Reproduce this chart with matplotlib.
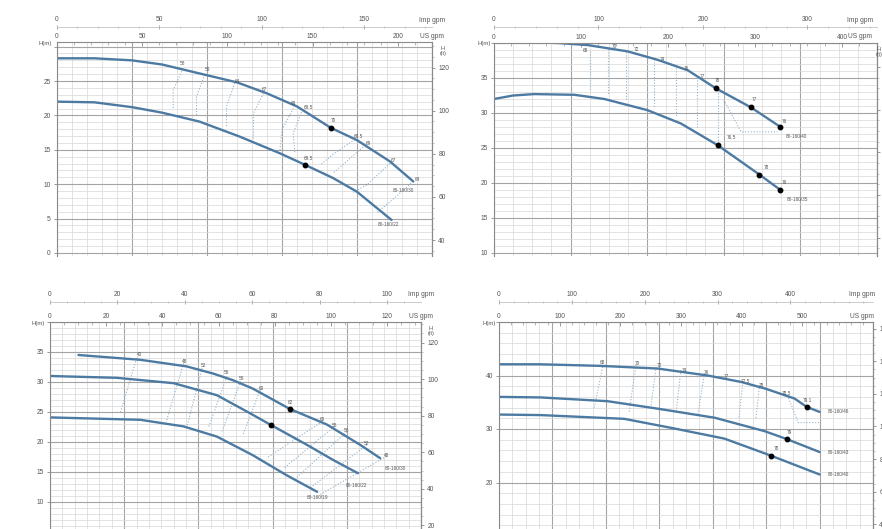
import matplotlib
matplotlib.use("Agg")
import matplotlib.pyplot as plt
from matplotlib.ticker import MultipleLocator, FuncFormatter

plt.rcParams['font.family'] = ['Liberation Sans', 'DejaVu Sans']

W, H = 882, 529
fig = plt.figure(figsize=(W / 100, H / 100), dpi=100)

US = 4.403      # US gpm per m3/h
IMP = 3.666     # Imp gpm per m3/h
FT = 3.2808     # ft per m

# ---------------- data: flow Q in m3/h, head H in m ----------------
# Panel 1 (top-left)
p1_q_a = [0, 5, 10, 14, 19, 24, 28, 32, 36.5, 40, 44.4, 47.5]
p1_h_a = [28.3, 28.3, 28.0, 27.4, 26.1, 24.8, 23.2, 21.3, 18.2, 16.4, 13.3, 10.4]
p1_q_b = [0, 5, 10, 14, 19, 24.4, 29.7, 33.1, 36.8, 40, 44.6]
p1_h_b = [22.0, 21.9, 21.2, 20.4, 19.1, 16.9, 14.5, 12.8, 10.9, 8.9, 4.8]
p1_dot_q = [36.5, 33.1]
p1_dot_h = [18.2, 12.8]
p1_eff_q = [16.8, 20.0, 24.0, 27.7, 31.5, 33.5, 36.8, 40.2, 41.5, 44.8, 48.0, 33.5]
p1_eff_h = [27.6, 26.7, 25.0, 23.7, 21.8, 21.1, 19.3, 16.9, 15.9, 13.4, 10.7, 13.8]
p1_eff_s = ['58', '59', '64', '67', '69', '69.5', '70', '69.5', '69', '67', '64', '69.5']
p1_iso_q = [[16.8, 15.5, 15.5], [19.7, 18.6, 18.6], [23.7, 22.6, 22.6], [27.5, 26.2, 26.2],
            [31.5, 30.0, 29.7], [32.6, 31.5, 31.7], [39.7, 37.0, 35.1], [41.1, 38.5, 36.8],
            [44.4, 41.3, 39.5], [47.5, 45.0, 42.6]]
p1_iso_h = [[26.8, 23.7, 20.8], [25.9, 22.7, 20.0], [24.7, 21.3, 18.4], [23.2, 20.3, 16.4],
            [21.0, 17.9, 14.7], [20.5, 17.4, 14.7], [16.5, 14.5, 12.8], [15.7, 13.2, 11.6],
            [13.0, 9.9, 8.8], [10.4, 8.0, 5.8]]
p1_names = ['80-160/30', '80-160/22']
p1_name_q = [46.2, 44.2]
p1_name_h = [9.1, 4.1]

# Panel 2 (top-right)
p2_q_a = [0, 10, 16.6, 24.5, 34.9, 42.7, 50.6, 58, 67.1, 74.8]
p2_h_a = [40.1, 40.1, 40.0, 39.7, 38.8, 37.6, 36.1, 33.5, 30.8, 28.0]
p2_q_b = [0, 5, 10.5, 21, 28.8, 40.1, 48.8, 58.4, 69.3, 74.8]
p2_h_b = [32.0, 32.5, 32.7, 32.6, 32.0, 30.4, 28.5, 25.4, 21.2, 19.0]
p2_dot_q = [58, 67.1, 74.8, 58.4, 69.3, 74.8]
p2_dot_h = [33.5, 30.8, 28.0, 25.4, 21.2, 19.0]
p2_eff_q = [24, 31.4, 37.1, 44, 50.1, 54.5, 58.4, 68, 75.8, 61.9, 71, 75.8]
p2_eff_h = [38.9, 39.5, 39.1, 37.7, 36.3, 35.2, 34.7, 31.9, 28.8, 26.5, 22.2, 20.0]
p2_eff_s = ['68', '70', '72', '74', '76', '77', '78', '77', '76', '76.5', '78', '76']
p2_iso_q = [[25, 25], [29.7, 29.7], [34.5, 34.5], [41.9, 41.9], [47.6, 47.6], [52.9, 52.9],
            [58.6, 58.6], [60, 64.5, 74]]
p2_iso_h = [[38.9, 33.2], [39.1, 32.6], [38.7, 31.9], [37.7, 30.8], [36.4, 29.6], [35.2, 28.0],
            [33.3, 25.3], [31.9, 27.3, 27.3]]
p2_names = ['80-160/40', '80-160/35']
p2_name_q = [78.9, 79.3]
p2_name_h = [26.6, 17.7]

# Panel 3 (bottom-left)
p3_q_a = [2.3, 7.3, 11.05, 13.2, 14.8, 16.4, 19.4, 22.4, 25.1, 26.7]
p3_h_a = [34.5, 33.7, 32.6, 31.4, 30.3, 28.9, 25.5, 22.9, 19.5, 17.3]
p3_q_b = [0, 5.4, 10, 13.5, 15.9, 17.9, 20.8, 22.9, 24.9]
p3_h_b = [31.0, 30.7, 29.8, 27.8, 25.1, 22.8, 19.5, 17.0, 14.8]
p3_q_c = [0, 7.3, 10.8, 13.5, 16.4, 19.1, 21.6]
p3_h_c = [24.1, 23.7, 22.6, 20.9, 17.8, 14.5, 11.7]
p3_dot_q = [19.4, 17.9]
p3_dot_h = [25.5, 22.8]
p3_eff_q = [7.2, 10.9, 12.4, 14.3, 15.5, 17.1, 19.4, 22.0, 23.0, 24.0, 25.6, 27.2]
p3_eff_h = [34.6, 33.4, 32.7, 31.6, 30.5, 28.9, 26.6, 23.8, 22.8, 22.0, 19.8, 17.8]
p3_eff_s = ['40', '48', '52', '56', '58', '60', '62', '60', '58', '56', '52', '48']
p3_iso_q = [[7.0, 5.7], [10.8, 9.4], [12.3, 11.1], [14.3, 12.8], [15.4, 13.9], [17.0, 15.6],
            [22.0, 17.5], [23.0, 18.9], [24.0, 19.9], [25.6, 21.0], [27.2, 21.8]]
p3_iso_h = [[33.9, 25.0], [33.1, 23.4], [32.3, 22.8], [30.9, 22.3], [30.1, 21.7], [28.7, 21.2],
            [23.4, 17.3], [22.6, 15.6], [21.7, 14.0], [19.5, 12.3], [17.6, 11.2]]
p3_names = ['80-160/30', '80-160/22', '80-160/19']
p3_name_q = [27.9, 24.8, 21.6]
p3_name_h = [15.5, 12.8, 10.8]

# Panel 4 (bottom-right)
p4_q_a = [0, 15, 38.1, 59.4, 78.1, 90.6, 100, 110.6, 115.3, 120]
p4_h_a = [42.1, 42.1, 41.8, 41.3, 40.0, 38.8, 37.5, 35.7, 34.1, 33.2]
p4_q_b = [0, 15.6, 40.6, 59.4, 80.8, 99.4, 107.8, 120]
p4_h_b = [36.0, 35.9, 35.2, 33.8, 32.1, 29.6, 28.1, 25.7]
p4_q_c = [0, 15.6, 46.9, 65.6, 84.4, 101.9, 120]
p4_h_c = [32.7, 32.6, 31.9, 30.1, 28.2, 25.0, 21.5]
p4_dot_q = [115.3, 107.8, 101.9]
p4_dot_h = [34.1, 28.1, 25.0]
p4_eff_q = [38.8, 51.9, 60, 69.4, 77.5, 85, 92.2, 98.1, 107.5, 115.6, 108.5, 103.7]
p4_eff_h = [42.5, 42.3, 41.9, 41.0, 40.5, 39.8, 38.9, 38.2, 36.6, 35.4, 29.4, 26.3]
p4_eff_s = ['68', '70', '72', '74', '76', '77', '77.5', '78', '78.5', '79.1', '79', '78']
p4_iso_q = [[38.8, 35.6], [51.3, 48.7], [58.8, 56.9], [68.1, 66.3], [76.9, 74.4],
            [91.3, 89.8], [97.5, 96.2], [108, 112, 120]]
p4_iso_h = [[41.6, 33.8], [42.0, 33.2], [41.6, 34.2], [41.0, 33.2], [40.4, 32.6],
            [38.8, 32.0], [38.2, 32.0], [36.3, 31.2, 31.2]]
p4_names = ['80-160/46', '80-160/43', '80-160/40']
p4_name_q = [126.9, 126.9, 126.9]
p4_name_h = [33.2, 25.7, 21.5]

# axis tick values
p1_us_ticks, p1_imp_ticks, p1_ft_ticks = [0, 50, 100, 150, 200], [0, 50, 100, 150], [40, 60, 80, 100, 120]
p2_us_ticks, p2_imp_ticks, p2_ft_ticks = [0, 100, 200, 300, 400], [0, 100, 200, 300], [40, 60, 80, 100, 120]
p3_us_ticks, p3_imp_ticks, p3_ft_ticks = [0, 20, 40, 60, 80, 100, 120], [0, 20, 40, 60, 80, 100], [20, 40, 60, 80, 100, 120]
p4_us_ticks, p4_imp_ticks, p4_ft_ticks = [0, 100, 200, 300, 400, 500], [0, 100, 200, 300, 400], [40, 60, 80, 100, 120, 140, 160]

CURVE = '#4d7aa2'
TXT = '#555555'
GRID_MAJ = '#a4a4a4'
GRID_MIN = '#d8d8d8'
ISO = '#93b3cc'


def fx(x):
    return x / W


def fy(y):
    return 1 - y / H


def panel(box, xlim, ylim, xmaj, xmin, ymaj, ymin, hlab_max, imp_y,
          us_ticks, us_minor, imp_ticks, imp_minor, ft_f, ft_i, ft_ticks,
          curves, dots, effs, isos, names, unit_x, hm_x, ft_lab):
    x0, y0, x1, y1 = box
    ax = fig.add_axes([fx(x0), fy(y1), (x1 - x0) / W, (y1 - y0) / H])
    ax.set_xlim(*xlim)
    ax.set_ylim(*ylim)
    ax.xaxis.set_major_locator(MultipleLocator(xmaj))
    ax.xaxis.set_minor_locator(MultipleLocator(xmin))
    ax.yaxis.set_major_locator(MultipleLocator(ymaj))
    ax.yaxis.set_minor_locator(MultipleLocator(ymin))
    ax.grid(which='major', color=GRID_MAJ, lw=0.8)
    ax.grid(which='minor', color=GRID_MIN, lw=0.5)
    ax.set_axisbelow(True)
    ax.tick_params(axis='x', which='both', bottom=False, labelbottom=False)
    ax.tick_params(axis='y', which='major', length=2.5, width=0.6, color='#888',
                   labelsize=4.8, labelcolor=TXT, pad=2)
    ax.tick_params(axis='y', which='minor', length=0)
    ax.yaxis.set_major_formatter(FuncFormatter(
        lambda v, p: '' if v > hlab_max or v < ylim[0] else f'{v:g}'))
    ax.spines['bottom'].set_visible(False)
    for s in ('left', 'top', 'right'):
        ax.spines[s].set_color('#8a8a8a')
        ax.spines[s].set_linewidth(0.8)

    # top axes: US gpm on the frame, Imp gpm on a line above
    us = ax.secondary_xaxis('top', functions=(lambda q: q * US, lambda g: g / US))
    us.set_xticks(us_ticks)
    us.xaxis.set_minor_locator(MultipleLocator(us_minor))
    us.tick_params(which='major', direction='in', length=3, width=0.6, color='#888',
                   labelsize=4.8, labelcolor=TXT, pad=1.5)
    us.tick_params(which='minor', direction='in', length=2, width=0.5, color='#999')
    us.spines['top'].set_visible(False)

    loc = 1 + (y0 - imp_y) / (y1 - y0)
    imp = ax.secondary_xaxis(loc, functions=(lambda q: q * IMP, lambda g: g / IMP))
    imp.set_xticks(imp_ticks)
    imp.xaxis.set_minor_locator(MultipleLocator(imp_minor))
    imp.tick_params(which='major', direction='inout', length=3, width=0.6, color='#999',
                    labelsize=4.8, labelcolor=TXT, pad=1.5)
    imp.tick_params(which='minor', direction='inout', length=2, width=0.5, color='#aaa')
    imp.spines['top'].set_color('#c4c4c4')
    imp.spines['top'].set_linewidth(0.6)

    # right axis: ft
    ft = ax.secondary_yaxis('right', functions=(ft_f, ft_i))
    ft.set_yticks(ft_ticks)
    ft.yaxis.set_minor_locator(MultipleLocator(5))
    ft.tick_params(which='major', direction='out', length=2.5, width=0.6, color='#888',
                   labelsize=4.8, labelcolor=TXT, pad=2)
    ft.tick_params(which='minor', direction='out', length=1.5, width=0.5, color='#aaa')
    ft.spines['right'].set_color('#8a8a8a')
    ft.spines['right'].set_linewidth(0.8)

    for qs, hs in zip(*isos):
        ax.plot(qs, hs, ls=(0, (1, 1.6)), color=ISO, lw=0.8)
    for q, h in curves:
        ax.plot(q, h, color=CURVE, lw=1.7, solid_capstyle='round', solid_joinstyle='round')
    ax.plot(dots[0], dots[1], 'o', color='black', ms=3.2, zorder=5)
    for q, h, s in zip(*effs):
        ax.text(q, h, s, fontsize=3.4, color=TXT, ha='center', va='center')
    for s, q, h in zip(*names):
        ax.text(q, h, s, fontsize=3.4, color=TXT, ha='center', va='center')

    fig.text(fx(unit_x), fy(imp_y - 7), 'Imp gpm', fontsize=4.8, color=TXT, ha='center', va='center')
    fig.text(fx(unit_x), fy(y0 - 6), 'US gpm', fontsize=4.8, color=TXT, ha='center', va='center')
    fig.text(fx(hm_x), fy(y0 + 1), 'H(m)', fontsize=4.3, color=TXT, ha='right', va='center')
    if ft_lab is not None:
        fig.text(fx(x1 + ft_lab), fy(y0 + 9), 'H\n(ft)', fontsize=4.0, color=TXT, ha='center',
                 va='center', linespacing=0.9)
    return ax


panel((57, 42, 432, 256), (0, 50), (-0.44, 30.67), 10, 2, 5, 1, 25, 27,
      p1_us_ticks, 10, p1_imp_ticks, 10,
      lambda h: 3.19 * h + 34.0, lambda f: (f - 34.0) / 3.19, p1_ft_ticks,
      [(p1_q_a, p1_h_a), (p1_q_b, p1_h_b)], (p1_dot_q, p1_dot_h),
      (p1_eff_q, p1_eff_h, p1_eff_s), (p1_iso_q, p1_iso_h),
      (p1_names, p1_name_q, p1_name_h), 432, 52, 11)

panel((494, 43, 877, 256), (0, 100), (9.57, 40), 20, 5, 5, 1, 35, 27,
      p2_us_ticks, 20, p2_imp_ticks, 20,
      lambda h: h * FT, lambda f: f / FT, p2_ft_ticks,
      [(p2_q_a, p2_h_a), (p2_q_b, p2_h_b)], (p2_dot_q, p2_dot_h),
      (p2_eff_q, p2_eff_h, p2_eff_s), (p2_iso_q, p2_iso_h),
      (p2_names, p2_name_q, p2_name_h), 860, 491, 2)

panel((50, 322, 421, 562), (0, 30), (0, 40), 6, 1, 5, 1, 35, 302,
      p3_us_ticks, 5, p3_imp_ticks, 5,
      lambda h: h * FT, lambda f: f / FT, p3_ft_ticks,
      [(p3_q_a, p3_h_a), (p3_q_b, p3_h_b), (p3_q_c, p3_h_c)], (p3_dot_q, p3_dot_h),
      (p3_eff_q, p3_eff_h, p3_eff_s), (p3_iso_q, p3_iso_h),
      (p3_names, p3_name_q, p3_name_h), 421, 45, 10)

panel((499, 322, 873, 536), (0, 140), (10, 50), 20, 5, 10, 2, 40, 302,
      p4_us_ticks, 20, p4_imp_ticks, 20,
      lambda h: h * FT, lambda f: f / FT, p4_ft_ticks,
      [(p4_q_a, p4_h_a), (p4_q_b, p4_h_b), (p4_q_c, p4_h_c)], (p4_dot_q, p4_dot_h),
      (p4_eff_q, p4_eff_h, p4_eff_s), (p4_iso_q, p4_iso_h),
      (p4_names, p4_name_q, p4_name_h), 862, 496, None)

fig.savefig('out.png', dpi=100)
